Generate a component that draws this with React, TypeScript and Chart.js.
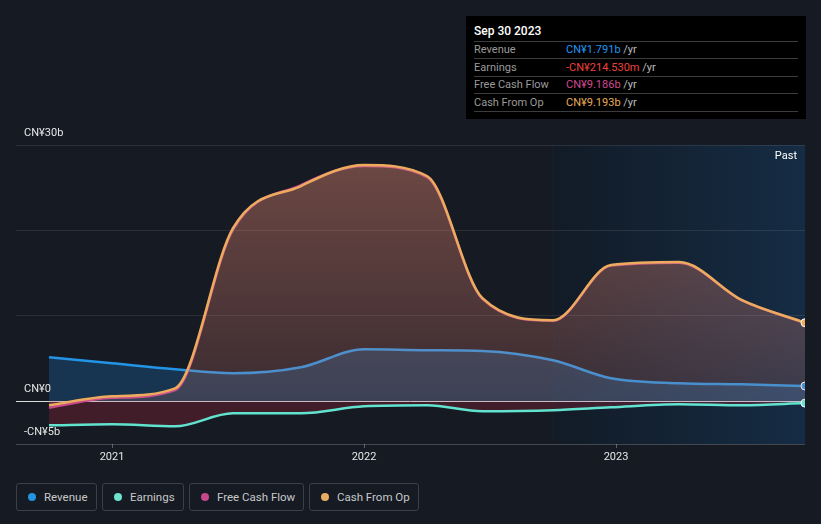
import React, { useEffect, useRef } from "react";
import { Chart, registerables } from "chart.js";

Chart.register(...registerables);

// ---- data ----
const dates = [2020.75, 2021.0, 2021.25, 2021.48, 2021.75, 2022.0, 2022.25, 2022.47, 2022.75, 2022.98, 2023.25, 2023.5, 2023.75];
const revenue = [5.16, 4.45, 3.75, 3.28, 3.98, 6.09, 5.98, 5.9, 4.8, 2.7, 2.11, 1.99, 1.791];
const earnings = [-2.81, -2.7, -2.93, -1.41, -1.41, -0.59, -0.47, -1.17, -1.05, -0.7, -0.35, -0.47, -0.2145];
const freeCashFlow = [-0.75, 0.4, 1.3, 20.1, 25.3, 27.55, 26.25, 11.98, 9.42, 15.88, 16.22, 11.8, 9.186];
const cashFromOp = [-0.47, 0.59, 1.52, 20.27, 25.2, 27.66, 26.37, 12.07, 9.49, 15.94, 16.29, 11.84, 9.193];

const yGridValues = [-5, 0, 10, 20, 30];
const yLabelValues = [30, 0, -5];
const yLabelTexts = ["CN¥30b", "CN¥0", "-CN¥5b"];
const xTickValues = [2021, 2022, 2023];
const xTickLabels = ["2021", "2022", "2023"];
const xMin = 2020.619;
const xMax = 2023.75;
const yMin = -5;
const yMax = 30;
const pastStart = 2022.75;

const tooltipTitle = "Sep 30 2023";
const tooltipRows = [
  { label: "Revenue", value: "CN¥1.791b", color: "#2196f3" },
  { label: "Earnings", value: "-CN¥214.530m", color: "#f0403c" },
  { label: "Free Cash Flow", value: "CN¥9.186b", color: "#d2478f" },
  { label: "Cash From Op", value: "CN¥9.193b", color: "#eaab55" },
];

const legendItems = [
  { label: "Revenue", color: "#2394df" },
  { label: "Earnings", color: "#6fe3cf" },
  { label: "Free Cash Flow", color: "#c4488a" },
  { label: "Cash From Op", color: "#e9ad62" },
];

const FONT = "Roboto, 'Noto Sans', sans-serif";
const BG = "#151a23";

const toPoints = (vals: number[]) => vals.map((v, i) => ({ x: dates[i], y: v }));

function vGrad(chart: any, top: string, bottom: string) {
  const area = chart.chartArea;
  if (!area) return top;
  const zero = chart.scales.y.getPixelForValue(0);
  const g = chart.ctx.createLinearGradient(0, area.top, 0, zero);
  g.addColorStop(0, top);
  g.addColorStop(1, bottom);
  return g;
}

const decorPlugin = {
  id: "decor",
  beforeDraw(chart: any) {
    const { ctx, chartArea, scales } = chart;
    const { top, bottom, right } = chartArea;
    const x0 = scales.x.getPixelForValue(pastStart);
    const g = ctx.createLinearGradient(x0, 0, right, 0);
    g.addColorStop(0, "#121b26");
    g.addColorStop(1, "#152c44");
    ctx.save();
    ctx.fillStyle = g;
    ctx.fillRect(x0, top, right - x0, bottom - top);
    ctx.strokeStyle = "rgba(255,255,255,0.02)";
    ctx.lineWidth = 1;
    ctx.beginPath();
    ctx.moveTo(Math.round(x0) + 0.5, top);
    ctx.lineTo(Math.round(x0) + 0.5, bottom);
    ctx.stroke();
    ctx.restore();
  },
  afterDraw(chart: any) {
    const { ctx, chartArea, scales } = chart;
    ctx.save();
    ctx.font = `11px ${FONT}`;
    ctx.fillStyle = "#e6e6e6";
    ctx.textBaseline = "middle";
    ctx.textAlign = "left";
    yLabelValues.forEach((v, i) => {
      const py = scales.y.getPixelForValue(v);
      ctx.fillText(yLabelTexts[i], chartArea.left + 8, py - 12);
    });
    ctx.textAlign = "center";
    xTickValues.forEach((v, i) => {
      const px = scales.x.getPixelForValue(v);
      ctx.strokeStyle = "rgba(255,255,255,0.3)";
      ctx.lineWidth = 1;
      ctx.beginPath();
      ctx.moveTo(Math.round(px) + 0.5, chartArea.bottom);
      ctx.lineTo(Math.round(px) + 0.5, chartArea.bottom + 4);
      ctx.stroke();
      ctx.fillText(xTickLabels[i], px, chartArea.bottom + 13);
    });
    ctx.textAlign = "right";
    ctx.fillStyle = "#ffffff";
    ctx.fillText("Past", chartArea.right - 8, chartArea.top + 11);
    ctx.restore();
  },
};

function ChartCanvas() {
  const ref = useRef<HTMLCanvasElement | null>(null);
  useEffect(() => {
    if (!ref.current) return;
    const last = dates.length - 1;
    const endRadius = (ctx: any) => (ctx.dataIndex === last ? 4 : 0);
    const chart = new Chart(ref.current, {
      type: "line",
      data: {
        datasets: [
          {
            label: "Cash From Op",
            data: toPoints(cashFromOp),
            borderColor: "#edab5e",
            borderWidth: 2.5,
            cubicInterpolationMode: "monotone",
            fill: "origin",
            backgroundColor: (c: any) => vGrad(c.chart, "rgba(235,150,110,0.36)", "rgba(235,150,110,0.12)"),
            pointRadius: endRadius,
            pointBackgroundColor: "#edab5e",
            pointBorderColor: "#ffffff",
            pointBorderWidth: 1,
            clip: 0,
          },
          {
            label: "Free Cash Flow",
            data: toPoints(freeCashFlow),
            borderColor: "#c7478f",
            borderWidth: 2.5,
            cubicInterpolationMode: "monotone",
            fill: "origin",
            backgroundColor: (c: any) => vGrad(c.chart, "rgba(200,70,120,0.12)", "rgba(200,70,120,0.07)"),
            pointRadius: 0,
            clip: 0,
          },
          {
            label: "Earnings",
            data: toPoints(earnings),
            borderColor: "#62e3cf",
            borderWidth: 2.5,
            cubicInterpolationMode: "monotone",
            fill: { target: "origin", above: "rgba(110,231,211,0.1)", below: "rgba(190,40,60,0.26)" },
            pointRadius: endRadius,
            pointBackgroundColor: "#62e3cf",
            pointBorderColor: "#ffffff",
            pointBorderWidth: 1,
            clip: 0,
          },
          {
            label: "Revenue",
            data: toPoints(revenue),
            borderColor: "#2394e6",
            borderWidth: 2.5,
            cubicInterpolationMode: "monotone",
            fill: "origin",
            backgroundColor: "rgba(33,150,243,0.22)",
            pointRadius: endRadius,
            pointBackgroundColor: "#2394e6",
            pointBorderColor: "#ffffff",
            pointBorderWidth: 1,
            clip: 0,
          },
        ],
      },
      options: {
        animation: false,
        responsive: false,
        maintainAspectRatio: false,
        layout: { padding: { top: 145, left: 16, right: 16, bottom: 26 } },
        plugins: { legend: { display: false }, tooltip: { enabled: false } },
        scales: {
          x: {
            type: "linear",
            display: false,
            min: xMin,
            max: xMax,
            ticks: { display: false },
            grid: { display: false },
            border: { display: false },
          },
          y: {
            min: yMin,
            max: yMax,
            afterBuildTicks: (s: any) => {
              s.ticks = yGridValues.map((v) => ({ value: v }));
            },
            ticks: { display: false },
            grid: {
              drawTicks: false,
              color: (c: any) =>
                c.tick && c.tick.value === 0
                  ? "#dcdcdc"
                  : c.tick && c.tick.value === -5
                  ? "rgba(255,255,255,0.2)"
                  : "rgba(255,255,255,0.09)",
            },
            border: { display: false },
          },
        },
      },
      plugins: [decorPlugin],
    } as any);
    return () => chart.destroy();
  }, []);
  return <canvas ref={ref} width={821} height={470} style={{ position: "absolute", left: 0, top: 0, width: 821, height: 470 }} />;
}

export default function App() {
  useEffect(() => {
    document.body.style.margin = "0";
    document.body.style.background = BG;
  }, []);
  const lineTops = [25, 42, 60, 77, 95];
  const legendLefts = [16, 102, 189, 309];
  const legendWidths = [81, 82, 115, 110];
  return (
    <div style={{ position: "relative", width: 821, height: 524, background: BG, fontFamily: FONT, overflow: "hidden" }}>
      <ChartCanvas />
      <div style={{ position: "absolute", left: 466, top: 16, width: 340, height: 103, background: "#000" }}>
        <div style={{ position: "absolute", left: 8, top: 7, fontSize: 12, fontWeight: 500, color: "#fff", lineHeight: "16px" }}>{tooltipTitle}</div>
        {lineTops.map((t, i) => (
          <div key={i} style={{ position: "absolute", left: 8, top: t, width: 324, height: 1, background: "#3c3c3c" }} />
        ))}
        {tooltipRows.map((r, i) => (
          <div key={r.label} style={{ position: "absolute", left: 8, top: lineTops[i], height: lineTops[i + 1] - lineTops[i], display: "flex", alignItems: "center", fontSize: 11, width: 330 }}>
            <span style={{ color: "#9a9a9a", width: 92, display: "inline-block" }}>{r.label}</span>
            <span style={{ color: r.color }}>{r.value}</span>
            <span style={{ color: "#bdbdbd" }}>&nbsp;/yr</span>
          </div>
        ))}
      </div>
      {legendItems.map((it, i) => (
        <div
          key={it.label}
          style={{
            position: "absolute",
            left: legendLefts[i],
            top: 483,
            width: legendWidths[i],
            height: 28,
            boxSizing: "border-box",
            border: "1px solid #3a3f4a",
            borderRadius: 3,
            display: "flex",
            alignItems: "center",
            fontSize: 11.5,
            color: "#c8c8c8",
          }}
        >
          <span style={{ width: 8, height: 8, borderRadius: 4, background: it.color, marginLeft: 11, marginRight: 8, display: "inline-block" }} />
          <span>{it.label}</span>
        </div>
      ))}
    </div>
  );
}
